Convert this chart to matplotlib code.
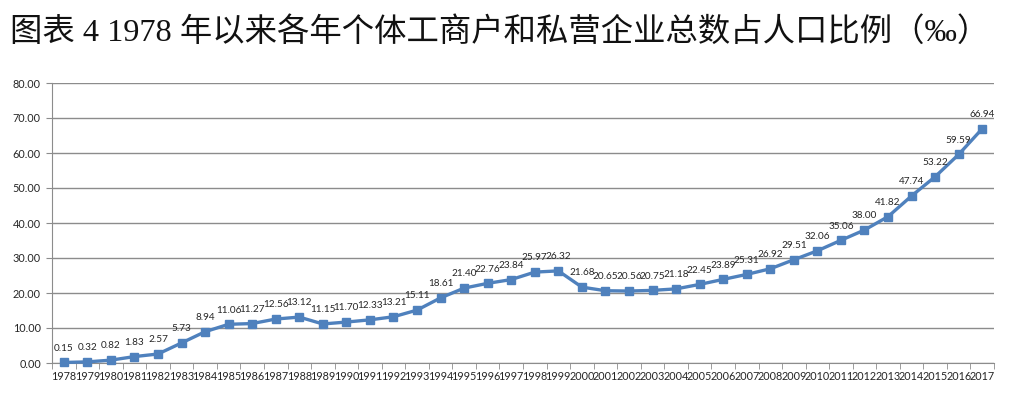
import matplotlib
matplotlib.use("Agg")
import matplotlib.pyplot as plt
from matplotlib.ticker import FixedLocator, NullFormatter

# datos
years = [str(y) for y in range(1978, 2018)]
ratio = [0.15, 0.32, 0.82, 1.83, 2.57, 5.73, 8.94, 11.06, 11.27, 12.56,
         13.12, 11.15, 11.70, 12.33, 13.21, 15.11, 18.61, 21.40, 22.76, 23.84,
         25.97, 26.32, 21.68, 20.65, 20.56, 20.75, 21.18, 22.45, 23.89, 25.31,
         26.92, 29.51, 32.06, 35.06, 38.00, 41.82, 47.74, 53.22, 59.59, 66.94]
y_ticks = [0, 10, 20, 30, 40, 50, 60, 70, 80]
title = "图表 4 1978 年以来各年个体工商户和私营企业总数占人口比例（‰）"

line_color = "#4F81BD"
grid_color = "#8C8C8C"
text_color = "#262626"
tick_font = "Lato"

fig = plt.figure(figsize=(10.21, 3.95), dpi=100)
ax = fig.add_axes([52 / 1021, 32 / 395, (994 - 52) / 1021, (363 - 83) / 395])

x = list(range(len(years)))
ax.plot(x, ratio, color=line_color, lw=2.4, marker="s", ms=5.5,
        mec=line_color, mfc=line_color, zorder=3, clip_on=False)

for xi, v in zip(x, ratio):
    ax.annotate(f"{v:.2f}", (xi, v), xytext=(0, 7), textcoords="offset points",
                ha="center", va="bottom", fontsize=7.2, color=text_color,
                family=tick_font)

ax.set_xlim(-0.5, len(years) - 0.5)
ax.set_ylim(0, 80)
ax.set_yticks(y_ticks)
ax.set_yticklabels([f"{t:.2f}" for t in y_ticks], fontsize=7.8,
                   color=text_color, family=tick_font)
ax.yaxis.grid(True, color=grid_color, lw=1)
ax.set_axisbelow(True)

ax.set_xticks(x)
ax.set_xticklabels(years, fontsize=7.8, color=text_color, family=tick_font)
ax.tick_params(axis="x", which="major", length=0, pad=6)
ax.xaxis.set_minor_locator(FixedLocator([i - 0.5 for i in range(len(years) + 1)]))
ax.xaxis.set_minor_formatter(NullFormatter())
ax.tick_params(axis="x", which="minor", length=4, color=grid_color)
ax.tick_params(axis="y", length=4, color=grid_color, pad=4)

for side in ["top", "right"]:
    ax.spines[side].set_visible(False)
ax.spines["left"].set_color(grid_color)
ax.spines["bottom"].set_color(grid_color)

fig.text(10 / 1021, 1 - 32 / 395, title, fontsize=23.3, va="center", ha="left",
         color="#111111", family=["Liberation Serif", "Noto Sans CJK SC"])

fig.savefig("out.png", dpi=100)
